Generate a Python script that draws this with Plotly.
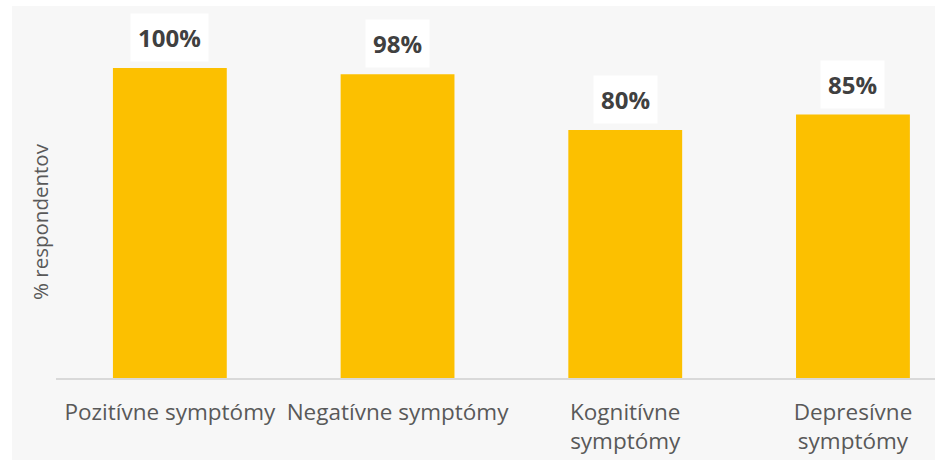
import plotly.graph_objects as go

categories = ["Pozitívne symptómy", "Negatívne symptómy", "Kognitívne<br>symptómy", "Depresívne<br>symptómy"]
values = [100, 98, 80, 85]
value_labels = ["100%", "98%", "80%", "85%"]
y_title = "% respondentov"

W, H = 939, 460
L, R, T, B = 56, 4, 6, 82
pw = W - L - R
ph = H - T - B

fig = go.Figure()
fig.add_trace(go.Bar(
    x=list(range(len(categories))),
    y=values,
    width=0.5,
    marker=dict(color="#FCC000", line=dict(width=0)),
    hoverinfo="skip",
))

for i, (v, lab) in enumerate(zip(values, value_labels)):
    fig.add_annotation(
        x=i, y=v, xref="x", yref="y",
        text=f"<b>{lab}</b>",
        showarrow=False,
        yanchor="bottom", xanchor="center",
        yshift=6,
        bgcolor="white",
        borderpad=7,
        font=dict(family="Open Sans", size=24, color="#404040"),
    )

# y axis title
fig.add_annotation(
    x=(40 - L) / pw, y=(H - B - 222) / ph, xref="paper", yref="paper",
    text=y_title, textangle=-90, showarrow=False,
    xanchor="center", yanchor="middle",
    font=dict(family="Open Sans", size=20.5, color="#595959"),
)

# grey chart-area background
fig.add_shape(
    type="rect", xref="paper", yref="paper",
    x0=(12 - L) / pw, x1=1.0, y0=-B / ph, y1=1.0,
    fillcolor="#F7F7F7", line=dict(width=0), layer="below",
)

fig.update_layout(
    width=W, height=H,
    margin=dict(l=L, r=R, t=T, b=B, autoexpand=False),
    paper_bgcolor="white",
    plot_bgcolor="#F7F7F7",
    showlegend=False,
    bargap=0.5,
    xaxis=dict(
        tickmode="array",
        tickvals=list(range(len(categories))),
        ticktext=categories,
        range=[-0.5, -0.5 + pw / 227.7],
        showline=True, linecolor="#D9D9D9", linewidth=2,
        showgrid=False, zeroline=False,
        ticks="", ticklabelstandoff=13,
        tickfont=dict(family="Open Sans", size=22.5, color="#595959"),
        automargin=False,
        fixedrange=True,
    ),
    yaxis=dict(
        range=[0, ph / 3.1],
        showticklabels=False, showgrid=False, zeroline=False, showline=False,
        ticks="", fixedrange=True, automargin=False,
    ),
)

fig.write_html("out.html")
